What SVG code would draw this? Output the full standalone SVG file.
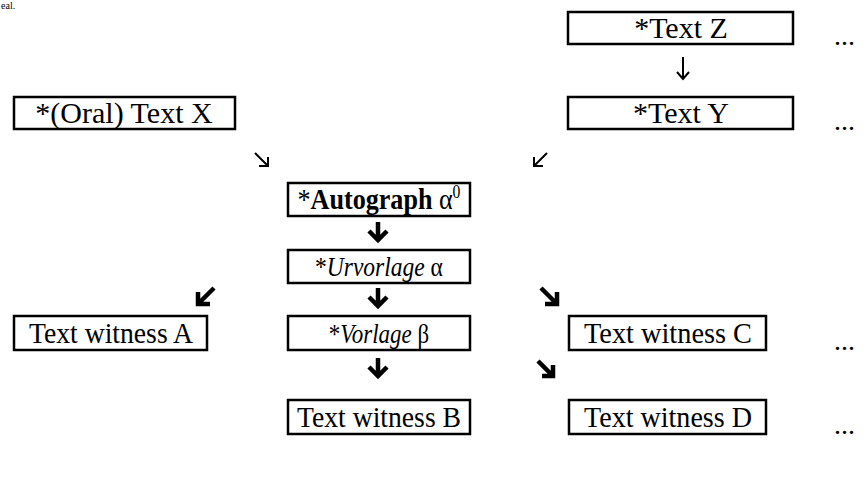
<svg xmlns="http://www.w3.org/2000/svg" width="864" height="483" viewBox="0 0 864 483">
  <style>
    .box { fill: #fff; stroke: #000; stroke-width: 2.5; }
    .lbl { font-family: "Liberation Serif", "Times New Roman", serif; font-size: 30px; fill: #000; text-anchor: middle; }
    .dots { font-family: "Liberation Serif", "Times New Roman", serif; font-size: 28px; fill: #000; }
    .tail { font-family: "Liberation Serif", "Times New Roman", serif; font-size: 10px; fill: #000; }
    .thin { fill: none; stroke: #000; stroke-width: 2; stroke-linecap: butt; }
    .bold { fill: none; stroke: #000; stroke-width: 4.5; stroke-linejoin: miter; stroke-linecap: butt; }
  </style>

  <!-- tail of the preceding paragraph -->
  <text class="tail" x="1" y="9">eal.</text>

  <g id="text-z">
    <rect class="box" x="568" y="12" width="225" height="32"/>
    <text class="lbl" x="681" y="38">*Text Z</text>
    <text class="dots" x="834" y="45">...</text>
  </g>

  <g id="text-y">
    <rect class="box" x="568" y="97" width="225" height="32"/>
    <text class="lbl" x="681" y="123">*Text Y</text>
    <text class="dots" x="834" y="130">...</text>
  </g>

  <g id="text-x">
    <rect class="box" x="14" y="97" width="221" height="32"/>
    <text class="lbl" x="124" y="123">*(Oral) Text X</text>
  </g>

  <g id="autograph">
    <rect class="box" x="288" y="183" width="182" height="33"/>
    <text class="lbl" transform="translate(379 209) scale(0.87 1)">*<tspan font-weight="bold">Autograph</tspan> α<tspan font-size="18" dy="-11">0</tspan></text>
  </g>

  <g id="urvorlage">
    <rect class="box" x="288" y="250" width="182" height="33"/>
    <text class="lbl" style="font-size:28px" transform="translate(379 276) scale(0.84 1)">*<tspan font-style="italic">Urvorlage</tspan> α</text>
  </g>

  <g id="witness-a">
    <rect class="box" x="14" y="316" width="193" height="34"/>
    <text class="lbl" x="111" y="343" textLength="164" lengthAdjust="spacingAndGlyphs">Text witness A</text>
  </g>

  <g id="vorlage">
    <rect class="box" x="288" y="316" width="182" height="34"/>
    <text class="lbl" style="font-size:28px" transform="translate(379 343) scale(0.82 1)">*<tspan font-style="italic">Vorlage</tspan> β</text>
  </g>

  <g id="witness-c">
    <rect class="box" x="569" y="316" width="197" height="34"/>
    <text class="lbl" x="668" y="343" textLength="168" lengthAdjust="spacingAndGlyphs">Text witness C</text>
    <text class="dots" x="834" y="350">...</text>
  </g>

  <g id="witness-b">
    <rect class="box" x="288" y="400" width="182" height="34"/>
    <text class="lbl" x="379" y="427" textLength="164" lengthAdjust="spacingAndGlyphs">Text witness B</text>
  </g>

  <g id="witness-d">
    <rect class="box" x="569" y="400" width="197" height="34"/>
    <text class="lbl" x="668" y="427" textLength="168" lengthAdjust="spacingAndGlyphs">Text witness D</text>
    <text class="dots" x="834" y="434">...</text>
  </g>

  <g id="connectors">
    <!-- Z to Y -->
    <path class="thin" d="M683 57 V79 M677 72 L683 79 L689 72"/>
    <!-- X to Autograph -->
    <path class="thin" d="M255 153 L268 166 M268 157 V166 H259"/>
    <!-- Y to Autograph -->
    <path class="thin" d="M547 153 L534 166 M534 157 V166 H543"/>
    <!-- Autograph to Urvorlage -->
    <path class="bold" d="M378 222 V241 M369 231 L378 240 L387 231"/>
    <!-- Urvorlage to witnesses -->
    <path class="bold" d="M214 288 L198 304 M198 292 V304 H210"/>
    <path class="bold" d="M378 288 V307 M369 297 L378 306 L387 297"/>
    <path class="bold" d="M541 288 L557 304 M557 292 V304 H545"/>
    <!-- Vorlage to B and D -->
    <path class="bold" d="M378 358 V377 M369 367 L378 376 L387 367"/>
    <path class="bold" d="M538 361 L553 376 M553 365 V376 H542"/>
  </g>
</svg>
